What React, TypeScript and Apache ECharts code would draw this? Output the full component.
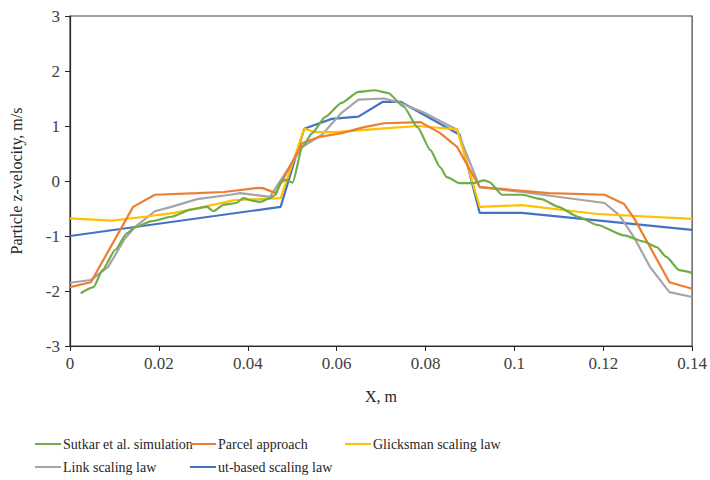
import React, { useEffect, useRef } from "react";
import * as echarts from "echarts";

const xTicks = ["0", "0.02", "0.04", "0.06", "0.08", "0.1", "0.12", "0.14"];
const yTicks = ["-3", "-2", "-1", "0", "1", "2", "3"];

const sutkarX = [0.0024, 0.0053, 0.0073, 0.0102, 0.0128, 0.0146, 0.0184, 0.0228, 0.0272, 0.0308, 0.0323, 0.0346, 0.0374, 0.039, 0.0412, 0.0428, 0.045, 0.0463, 0.0474, 0.0485, 0.0501, 0.0523, 0.0545, 0.0574, 0.0611, 0.0649, 0.0685, 0.0716, 0.0751, 0.0782, 0.0811, 0.0833, 0.0848, 0.0877, 0.0906, 0.0933, 0.0944, 0.0972, 0.1017, 0.1061, 0.1099, 0.1143, 0.1187, 0.1247, 0.1291, 0.132, 0.1342, 0.1371, 0.14];
const sutkarY = [-2.04, -1.93, -1.62, -1.25, -0.95, -0.84, -0.73, -0.65, -0.52, -0.47, -0.55, -0.43, -0.4, -0.31, -0.36, -0.38, -0.31, -0.25, -0.02, 0.02, -0.03, 0.62, 0.87, 1.16, 1.42, 1.62, 1.65, 1.6, 1.35, 0.98, 0.56, 0.25, 0.07, -0.04, -0.04, 0.01, -0.02, -0.25, -0.25, -0.33, -0.47, -0.65, -0.8, -0.99, -1.1, -1.2, -1.38, -1.62, -1.67];

const parcelX = [0, 0.0047, 0.0142, 0.0191, 0.0286, 0.0346, 0.0419, 0.0434, 0.0463, 0.0523, 0.056, 0.0611, 0.0662, 0.0707, 0.0789, 0.0833, 0.0871, 0.0922, 0.1077, 0.1203, 0.1247, 0.1269, 0.1349, 0.14];
const parcelY = [-1.93, -1.84, -0.47, -0.25, -0.22, -0.2, -0.13, -0.13, -0.22, 0.69, 0.8, 0.87, 0.98, 1.05, 1.07, 0.87, 0.62, -0.11, -0.22, -0.25, -0.42, -0.67, -1.84, -1.96];

const glicksmanX = [0, 0.0095, 0.0168, 0.0235, 0.0301, 0.0368, 0.0474, 0.0527, 0.0552, 0.0596, 0.0716, 0.0782, 0.0871, 0.0922, 0.1017, 0.1187, 0.14];
const glicksmanY = [-0.68, -0.72, -0.65, -0.58, -0.47, -0.35, -0.31, 0.95, 0.89, 0.89, 0.96, 1.0, 0.94, -0.47, -0.44, -0.6, -0.69];

const linkX = [0, 0.0047, 0.0086, 0.0124, 0.0146, 0.0191, 0.0228, 0.0286, 0.0361, 0.0383, 0.045, 0.0523, 0.0567, 0.0611, 0.0649, 0.0707, 0.0744, 0.0795, 0.0871, 0.0922, 0.1017, 0.1203, 0.1236, 0.1269, 0.1305, 0.1349, 0.14];
const linkY = [-1.85, -1.8, -1.56, -1.04, -0.84, -0.55, -0.47, -0.33, -0.25, -0.22, -0.29, 0.62, 0.84, 1.24, 1.48, 1.5, 1.42, 1.25, 0.93, -0.11, -0.2, -0.4, -0.62, -1.02, -1.56, -2.02, -2.11];

const utX = [0, 0.0474, 0.0527, 0.0589, 0.0649, 0.0704, 0.0744, 0.0877, 0.0922, 0.1017, 0.14];
const utY = [-1.0, -0.47, 0.95, 1.13, 1.17, 1.44, 1.44, 0.84, -0.58, -0.58, -0.89];

const seriesNames = ["Sutkar et al. simulation", "Parcel approach", "Glicksman scaling law", "Link scaling law", "ut-based scaling law"];
const seriesColors = ["#70AD47", "#ED7D31", "#FFC000", "#A5A5A5", "#4472C4"];
const seriesXs = [sutkarX, parcelX, glicksmanX, linkX, utX];
const seriesYs = [sutkarY, parcelY, glicksmanY, linkY, utY];

const FONT = "'Liberation Serif', 'Times New Roman', serif";

export default function App() {
  const ref = useRef<HTMLDivElement>(null);
  useEffect(() => {
    if (!ref.current) return;
    const chart = echarts.init(ref.current, undefined, { renderer: "svg" });
    const legendPos = [
      { left: 35, top: 437 },
      { left: 190, top: 437 },
      { left: 345, top: 437 },
      { left: 35, top: 460 },
      { left: 190, top: 460 },
    ];
    chart.setOption({
      animation: false,
      backgroundColor: "#ffffff",
      grid: {
        left: 64,
        right: 14,
        top: 16,
        bottom: 134,
        show: true,
        borderColor: "#404040",
        borderWidth: 1.2,
      },
      legend: seriesNames.map((n, i) => ({
        data: [n],
        left: legendPos[i].left,
        top: legendPos[i].top,
        icon: "rect",
        itemWidth: 26,
        itemHeight: 2,
        padding: 0,
        textStyle: { fontFamily: FONT, fontSize: 14, color: "#262626", padding: [0, 0, 0, -3] },
      })),
      xAxis: {
        type: "value",
        min: 0,
        max: 0.14,
        interval: 0.02,
        name: "X, m",
        nameLocation: "middle",
        nameGap: 42,
        nameTextStyle: { fontFamily: FONT, fontSize: 16, color: "#262626" },
        axisLine: { onZero: false, lineStyle: { color: "#262626", width: 1.2 } },
        axisTick: { show: true, length: 5, lineStyle: { color: "#262626" } },
        axisLabel: {
          fontFamily: FONT,
          fontSize: 17,
          color: "#404040",
          margin: 9,
          formatter: (v: number) => xTicks[Math.round(v / 0.02)] ?? String(v),
        },
        splitLine: { show: false },
      },
      yAxis: {
        type: "value",
        min: -3,
        max: 3,
        interval: 1,
        name: "Particle z-velocity, m/s",
        nameLocation: "middle",
        nameGap: 46,
        nameTextStyle: { fontFamily: FONT, fontSize: 16, color: "#262626" },
        axisLine: { show: true, onZero: false, lineStyle: { color: "#262626", width: 1.2 } },
        axisTick: { show: true, length: 5, lineStyle: { color: "#262626" } },
        axisLabel: {
          fontFamily: FONT,
          fontSize: 17,
          color: "#404040",
          margin: 10,
          formatter: (v: number) => yTicks[Math.round(v + 3)] ?? String(v),
        },
        splitLine: { show: false },
      },
      series: seriesNames.map((n, i) => ({
        name: n,
        type: "line",
        data: seriesXs[i].map((x, j) => [x, seriesYs[i][j]]),
        showSymbol: false,
        symbol: "none",
        smooth: i === 0 ? 0.2 : false,
        smoothMonotone: i === 0 ? "x" : undefined,
        color: seriesColors[i],
        lineStyle: { color: seriesColors[i], width: 2.2 },
        z: 10 - i,
      })),
    });
    return () => chart.dispose();
  }, []);
  return <div ref={ref} style={{ width: 710, height: 480, position: "absolute", left: 0, top: 0 }} />;
}
